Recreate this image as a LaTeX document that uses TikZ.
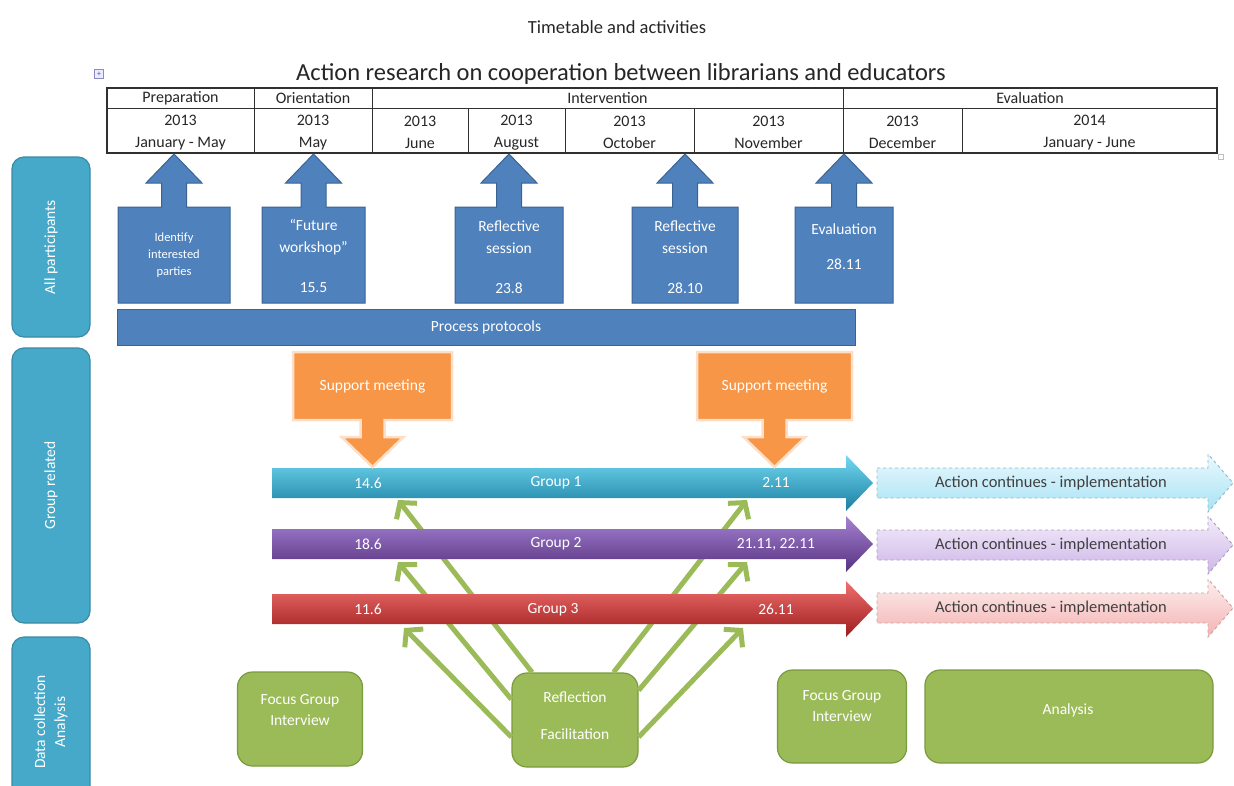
\documentclass[tikz,border=0pt]{standalone}
\usepackage{fontspec}
\setmainfont{Carlito}
\usetikzlibrary{arrows.meta,calc,shadings}

\definecolor{callblue}{HTML}{4F81BD}
\definecolor{callblueline}{HTML}{3A6393}
\definecolor{laneteal}{HTML}{47A9C9}
\definecolor{lanetealline}{HTML}{3A8AA5}
\definecolor{supporange}{HTML}{F79646}
\definecolor{datagreen}{HTML}{9BBB59}
\definecolor{datagreenline}{HTML}{7A9A3E}
\definecolor{tableline}{HTML}{303030}
\definecolor{grpatop}{HTML}{72D8F2}
\definecolor{grpamid}{HTML}{2DB1D6}
\definecolor{grpabot}{HTML}{1A7FA0}
\definecolor{grpbtop}{HTML}{A682D2}
\definecolor{grpbmid}{HTML}{7D4DB3}
\definecolor{grpbbot}{HTML}{553180}
\definecolor{grpctop}{HTML}{F07070}
\definecolor{grpcmid}{HTML}{D53232}
\definecolor{grpcbot}{HTML}{9C1C1C}
\definecolor{nextatop}{HTML}{EAF9FE}
\definecolor{nextabot}{HTML}{A7E2F4}
\definecolor{nextbtop}{HTML}{F4EDFB}
\definecolor{nextbbot}{HTML}{CDB5E8}
\definecolor{nextctop}{HTML}{FDEEEE}
\definecolor{nextcbot}{HTML}{F4B3B3}

\tikzset{
  cell/.style={font=\fontsize{16}{21.5}\selectfont, align=center, inner sep=0pt, text=black!85},
  lane/.style={rounded corners=12pt, fill=laneteal, draw=lanetealline, line width=1.2pt,
    rotate=90, text=white, font=\fontsize{15.5}{20}\selectfont, align=center},
  bluebox/.style={fill=callblue, draw=callblueline, line width=1pt},
  bluetext/.style={text=white, font=\fontsize{15.5}{22}\selectfont, align=center, inner sep=0pt},
  supportbox/.style={fill=supporange, draw=supporange!30, line width=2.5pt},
  bartext/.style={text=white, font=\fontsize{15.5}{19}\selectfont, inner sep=0pt},
  nexttext/.style={text=black!75, font=\fontsize{16.5}{19}\selectfont, inner sep=0pt},
  databox/.style={rounded corners=15pt, fill=datagreen, draw=datagreenline, line width=1.2pt},
  datatext/.style={text=white, font=\fontsize{15.5}{21}\selectfont, align=center, inner sep=0pt},
  link/.style={draw=datagreen, line width=5pt, -{Straight Barb[length=11pt,width=26pt]}},
}

\begin{document}
\begin{tikzpicture}[x=1pt, y=-1pt]
\useasboundingbox (0,0) rectangle (1234,785);

% titles
\node[font=\fontsize{18.5}{22}\selectfont, text=black!85] (title) at (617,27) {Timetable and activities};
\node[font=\fontsize{24.5}{28}\selectfont, text=black!85] (tabletitle) at (621,74)
  {Action research on cooperation between librarians and educators};

% table
\node[draw=blue!30!gray!70, fill=blue!8, minimum size=9pt, inner sep=0pt,
  font=\fontsize{8}{8}\selectfont, text=blue!40!gray] (movehandle) at (99,74) {+};
\node[draw=gray!50, minimum size=5pt, inner sep=0pt] (sizehandle) at (1221,157) {};
\draw[tableline, line width=1.2pt] (107,88) rectangle (1217,153);
\draw[tableline, line width=0.8pt] (107,108) -- (1217,108);
\foreach \xx in {254,372,843} \draw[tableline, line width=0.8pt] (\xx,88) -- (\xx,153);
\foreach \xx in {468,565,694,962} \draw[tableline, line width=0.8pt] (\xx,108) -- (\xx,153);
\foreach \xa/\xb/\txt [count=\i] in {107/254/Preparation, 254/372/Orientation,
    372/843/Intervention, 843/1217/Evaluation}
  \node[cell] (phase\i) at ({(\xa+\xb)/2},98) {\txt};
\foreach \xa/\xb/\yr/\mo [count=\i] in {107/254/2013/January - May, 254/372/2013/May,
    372/468/2013/June, 468/565/2013/August, 565/694/2013/October, 694/843/2013/November,
    843/962/2013/December, 962/1217/2014/January - June}
  \node[cell] (month\i) at ({(\xa+\xb)/2},132.5) {\yr\\\mo};

% lanes
\node[lane, minimum width=180pt, minimum height=78pt] (lanea) at (51,247) {All participants};
\node[lane, minimum width=275pt, minimum height=78pt] (laneb) at (51,485.5) {Group related};
\begin{scope}
  \clip (0,0) rectangle (1234,785);
  \node[lane, minimum width=170pt, minimum height=78pt] (lanec) at (51,722) {Data collection\\Analysis};
\end{scope}

% all participants: callouts up to the timetable
\foreach \xa/\xb in {118/230, 262/365, 455/563, 632/738, 795/893} {
  \pgfmathsetmacro\cx{(\xa+\xb)/2}
  \path[bluebox] (\xa,303) -- (\xa,207) -- (\cx-12.5,207) -- (\cx-12.5,183) -- (\cx-28,183)
    -- (\cx,154) -- (\cx+28,183) -- (\cx+12.5,183) -- (\cx+12.5,207) -- (\xb,207)
    -- (\xb,303) -- cycle;
}
\node[bluetext, font=\fontsize{12.5}{17}\selectfont] (identify) at (174,255) {Identify\\interested\\parties};
\node[bluetext] (workshop) at (313.5,256) {“Future\\workshop”\\[18pt]15.5};
\node[bluetext] (reflecta) at (509,257) {Reflective\\session\\[18pt]23.8};
\node[bluetext] (reflectb) at (685,257) {Reflective\\session\\[18pt]28.10};
\node[bluetext] (evaluation) at (844,247) {Evaluation\\[13pt]28.11};
\node[bluebox, bluetext, minimum width=738pt, minimum height=36pt] (protocols) at (486,327) {Process protocols};

% data collection
\node[databox, minimum width=125pt, minimum height=94pt] (focusa) at (300,719) {};
\node[databox, minimum width=126pt, minimum height=94pt] (refl) at (575,720) {};
\node[databox, minimum width=129pt, minimum height=93pt] (focusb) at (842,716.5) {};
\node[databox, minimum width=288pt, minimum height=93pt] (analysis) at (1069,716.5) {};
\node[datatext] (focusatext) at (300,710) {Focus Group\\Interview};
\node[datatext] (refltext) at (575,716) {Reflection\\[16pt]Facilitation};
\node[datatext] (focusbtext) at (842,706) {Focus Group\\Interview};
\node[datatext] (analysistext) at (1068,710) {Analysis};

% facilitation links
\coordinate (tipa1) at (398,500);
\coordinate (tipa2) at (398,562);
\coordinate (tipa3) at (404,628);
\coordinate (tipb1) at (747,500);
\coordinate (tipb2) at (747,562);
\coordinate (tipb3) at (743,628);
\draw[link] (refl.132) -- (tipa1);
\draw[link] (refl.162) -- (tipa2);
\draw[link] (refl.195) -- (tipa3);
\draw[link] (refl.51) -- (tipb1);
\draw[link] (refl.25) -- (tipb2);
\draw[link] (refl.345) -- (tipb3);

% groups
\foreach \yc/\cl/\nm/\sa/\sb in {483/grpa/one/14.6/2.11, 544/grpb/two/18.6/{21.11, 22.11},
    609/grpc/three/11.6/26.11} {
  \path[top color=\cl top, middle color=\cl mid, bottom color=\cl bot]
    (272,\yc-15) -- (846,\yc-15) -- (846,\yc-28) -- (873,\yc) -- (846,\yc+28)
    -- (846,\yc+15) -- (272,\yc+15) -- cycle;
  \node[bartext] (start\nm) at (368,\yc) {\sa};
  \node[bartext] (end\nm) at (776,\yc) {\sb};
}
\node[bartext] (groupone) at (556,483) {Group 1};
\node[bartext] (grouptwo) at (556,544) {Group 2};
\node[bartext] (groupthree) at (553,610) {Group 3};

% action continues
\foreach \yc/\cl/\ln/\nm in {483/nexta/8FB8C8/one, 545/nextb/A89BB8/two, 608/nextc/C8A0A0/three} {
  \definecolor{edge\nm}{HTML}{\ln}
  \path[draw=edge\nm, dashed, line width=0.9pt, top color=\cl top, bottom color=\cl bot]
    (877,\yc-15) -- (1208,\yc-15) -- (1208,\yc-29) -- (1233,\yc) -- (1208,\yc+29)
    -- (1208,\yc+15) -- (877,\yc+15) -- cycle;
  \node[nexttext] (next\nm) at (1051,\yc) {Action continues - implementation};
}

% support meetings
\foreach \xa/\xb/\nm in {293/452/supporta, 697/852/supportb} {
  \pgfmathsetmacro\cx{(\xa+\xb)/2}
  \path[supportbox] (\xa,352) -- (\xb,352) -- (\xb,420) -- (\cx+12,420) -- (\cx+12,437)
    -- (\cx+31,437) -- (\cx,467) -- (\cx-31,437) -- (\cx-12,437) -- (\cx-12,420)
    -- (\xa,420) -- cycle;
  \node[bartext] (\nm) at (\cx,386) {Support meeting};
}
\end{tikzpicture}
\end{document}
